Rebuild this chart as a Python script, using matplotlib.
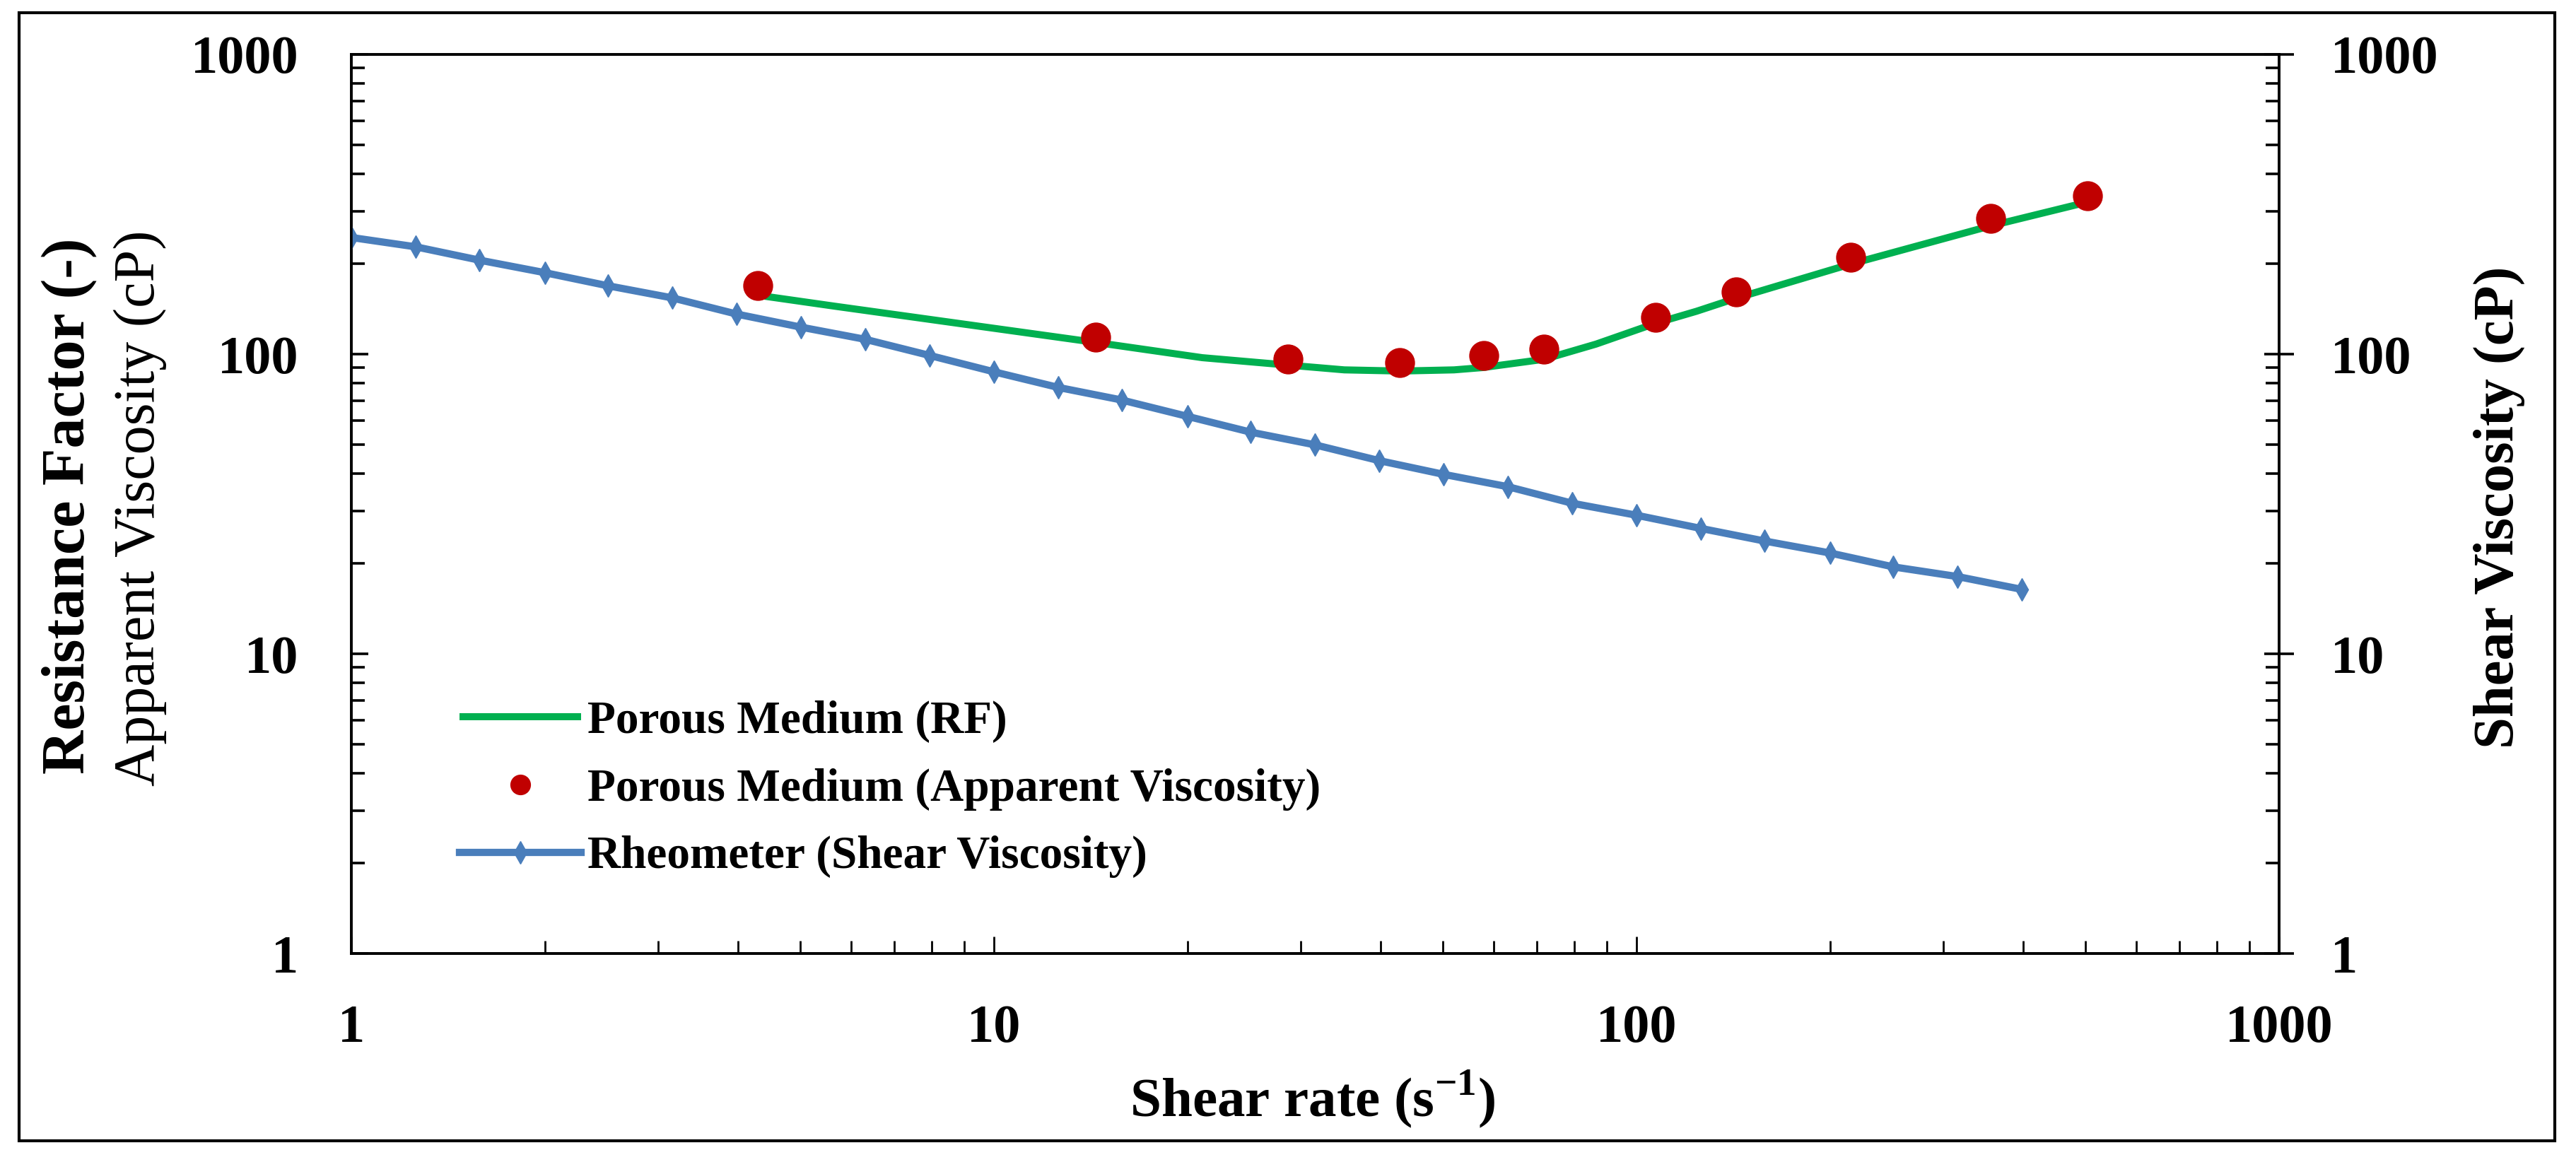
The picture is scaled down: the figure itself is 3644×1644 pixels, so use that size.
import matplotlib
matplotlib.use('Agg')
import matplotlib.pyplot as plt
from matplotlib.ticker import LogLocator, NullFormatter
from matplotlib.patches import Rectangle

# ---------------- data ----------------
rheo_shear_rate = [1.0, 1.26, 1.58, 2.0, 2.51, 3.16, 3.98, 5.01, 6.31, 7.94,
                   10.0, 12.6, 15.8, 20.0, 25.1, 31.6, 39.8, 50.1, 63.1, 79.4,
                   100, 126, 158, 200, 251, 316, 398]
rheo_viscosity = [245, 228, 206, 187, 169, 154, 136, 123, 112, 99,
                  87.3, 77.4, 70.3, 62.0, 54.9, 49.8, 44.1, 39.7, 36.1, 31.8,
                  29.0, 26.2, 23.8, 21.7, 19.5, 18.1, 16.4]

pm_shear_rate = [4.29, 14.4, 28.7, 42.8, 57.8, 71.7, 107, 143, 215.5, 356, 503]
pm_app_visc = [169, 114, 96.1, 93.8, 98.8, 103.7, 132.4, 161, 211, 283, 337]

rf_shear_rate = [4.4, 5.64, 14.4, 21.1, 28.7, 35.1, 42.9, 52.0, 57.7, 71.8,
                 86.5, 107.4, 124, 143, 215, 356, 486]
rf_values = [156, 144.6, 109.4, 97.3, 91.9, 88.6, 87.8, 88.6, 90.2, 96.1,
             108, 127, 139, 153.7, 199.5, 268, 315.7]

tick_values = [1, 10, 100, 1000]
tick_labels = ['1', '10', '100', '1000']

legend_labels = ['Porous Medium (RF)',
                 'Porous Medium (Apparent Viscosity)',
                 'Rheometer (Shear Viscosity)']

# ---------------- style ----------------
plt.rcParams['font.family'] = ['Liberation Serif', 'DejaVu Serif']
plt.rcParams['mathtext.fontset'] = 'custom'
plt.rcParams['mathtext.rm'] = 'Liberation Serif'
plt.rcParams['mathtext.bf'] = 'Liberation Serif:bold'

GREEN = '#00B050'
RED = '#C00000'
BLUE = '#4A7EBB'

W, H = 3644, 1644
fig = plt.figure(figsize=(W / 100, H / 100), dpi=100)
ax = fig.add_axes([497 / W, 1 - 1349 / H, (3224 - 497) / W, (1349 - 77) / H])

l_rf, = ax.plot(rf_shear_rate, rf_values, color=GREEN, lw=7.2,
                solid_capstyle='butt', solid_joinstyle='round', zorder=3)
l_pm, = ax.plot(pm_shear_rate, pm_app_visc, ls='none', marker='o',
                ms=29.5, mfc=RED, mec=RED, zorder=4)
l_rh, = ax.plot(rheo_shear_rate, rheo_viscosity, color=BLUE, lw=7.4,
                marker='d', ms=16, mfc=BLUE, mec=BLUE, zorder=3)

ax.set_xscale('log')
ax.set_yscale('log')
ax.set_xlim(1, 1000)
ax.set_ylim(1, 1000)

ax.set_xticks(tick_values, tick_labels, fontsize=55, fontweight='bold')
ax.set_yticks(tick_values, tick_labels, fontsize=55, fontweight='bold')
for axis in (ax.xaxis, ax.yaxis):
    axis.set_minor_locator(LogLocator(base=10, subs=range(2, 10), numticks=20))
    axis.set_minor_formatter(NullFormatter())

ax.tick_params(axis='x', which='major', direction='in', length=17, width=2.0,
               pad=52, top=False)
ax.tick_params(axis='x', which='minor', direction='in', length=13, width=2.0,
               top=False)
ax.tick_params(axis='y', which='major', direction='in', length=17, width=2.6,
               pad=54, right=False)
ax.tick_params(axis='y', which='minor', direction='in', length=14, width=2.6,
               right=False)

ax2 = ax.twinx()
ax2.set_yscale('log')
ax2.set_ylim(1, 1000)
ax2.set_yticks(tick_values, tick_labels, fontsize=55, fontweight='bold')
ax2.yaxis.set_minor_locator(LogLocator(base=10, subs=range(2, 10), numticks=20))
ax2.yaxis.set_minor_formatter(NullFormatter())
ax2.tick_params(axis='y', which='major', direction='inout', length=30, width=2.6,
                pad=37.5)
ax2.tick_params(axis='y', which='minor', direction='in', length=14, width=2.6)

for a in (ax, ax2):
    for s in a.spines.values():
        s.set_linewidth(2.6)

# axis titles
fig.text(1857 / W, 1 - 1579 / H, 'Shear rate (s$^{\\mathbf{-1}}$)',
         ha='center', va='baseline', fontsize=57, fontweight='bold')
fig.text(98 / W, 1 - 716 / H, 'Resistance Factor (-)', rotation=90,
         ha='center', va='center', fontsize=62, fontweight='bold')
fig.text(198 / W, 1 - 719 / H, 'Apparent Viscosity (cP)', rotation=90,
         ha='center', va='center', fontsize=59)
fig.text(3535 / W, 1 - 718 / H, 'Shear Viscosity (cP)', rotation=90,
         ha='center', va='center', fontsize=58, fontweight='bold')

leg = ax.legend([l_rf, l_pm, l_rh], legend_labels, loc='center left',
                bbox_to_anchor=(650 / W, 1 - 1116.5 / H),
                bbox_transform=fig.transFigure, frameon=False,
                borderpad=0, borderaxespad=0, handlelength=2.63,
                handletextpad=0.14, labelspacing=0.55, numpoints=1,
                prop=dict(family='Liberation Serif', weight='bold', size=47))
leg.legend_handles[1].set_markersize(20)

fig.add_artist(Rectangle((27 / W, 1 - 1614 / H), (3614 - 27) / W, (1614 - 18) / H,
                         transform=fig.transFigure, fill=False, lw=3,
                         ec='black'))

fig.savefig('out.png', dpi=100)
